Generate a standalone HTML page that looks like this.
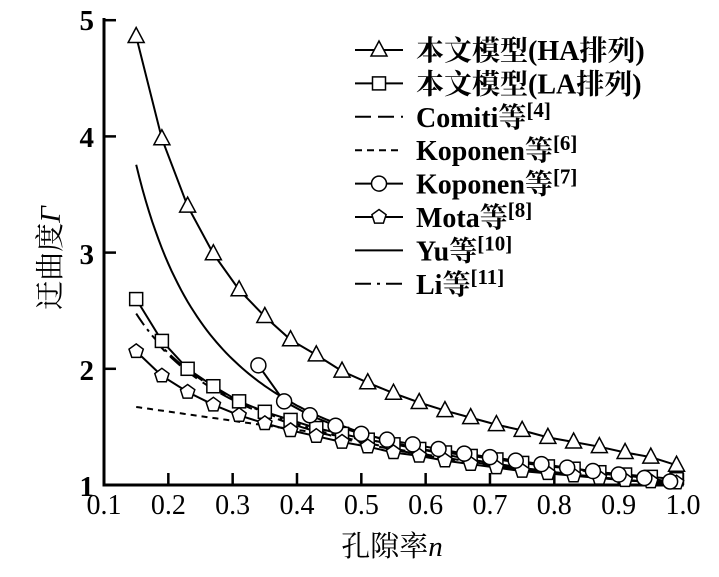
<!DOCTYPE html>
<html><head><meta charset="utf-8"><style>
body{margin:0;background:#fff}
svg text{font-family:"Liberation Serif","Noto Serif CJK SC",serif;fill:#000}
</style></head><body>
<svg id="s" width="719" height="572" viewBox="0 0 719 572" xmlns="http://www.w3.org/2000/svg">
<g stroke="#000" stroke-width="3" fill="none">
<path d="M104,18 V485 H682"/>
</g>
<g id="ticks" stroke="#000" stroke-width="2.5"></g>
<g font-size="29" font-weight="bold" text-anchor="end">
<text x="94" y="30">5</text><text x="94" y="147">4</text><text x="94" y="264">3</text><text x="94" y="380">2</text><text x="94" y="496">1</text>
</g>
<g id="xl" font-size="28" text-anchor="middle"></g>
<text x="0" y="0" font-size="29" transform="translate(60,258) rotate(-90)" text-anchor="middle">迂曲度<tspan font-style="italic">Γ</tspan></text>
<text x="392" y="556" font-size="29" text-anchor="middle">孔隙率<tspan font-style="italic">n</tspan></text>
<g id="plot" stroke="#000" stroke-width="2" fill="none"></g>
<g id="leg" font-size="28" font-weight="bold"></g>
</svg>
<script>
const NS="http://www.w3.org/2000/svg";
const X=n=>104+(n-0.1)*643.3, Y=v=>485-(v-1)*116.2;
function el(p,t,a,txt){const e=document.createElementNS(NS,t);for(const k in a)e.setAttribute(k,a[k]);if(txt)e.textContent=txt;document.getElementById(p).appendChild(e);return e;}
for(let i=1;i<=9;i++){const x=X(0.1+i*0.1);el('ticks','line',{x1:x,y1:485,x2:x,y2:473});}
for(let v=2;v<=5;v++){el('ticks','line',{x1:104,y1:Y(v),x2:116,y2:Y(v)});}
for(let i=0;i<=9;i++){el('xl','text',{x:X(0.1+i*0.1),y:514},(0.1+i*0.1).toFixed(1));}
const ns=[];for(let n=0.15;n<1.0;n+=0.04)ns.push(+n.toFixed(2));
const HA=[4.86,3.98,3.40,2.99,2.68,2.45,2.25,2.12,1.98,1.88,1.79,1.71,1.64,1.58,1.52,1.47,1.41,1.37,1.33,1.28,1.24,1.17];
const LA=[2.6,2.24,2.0,1.85,1.72,1.63,1.56,1.49,1.44,1.39,1.35,1.31,1.28,1.25,1.22,1.19,1.16,1.14,1.11,1.09,1.07,1.05];
const MO=[2.15,1.94,1.8,1.69,1.6,1.53,1.47,1.42,1.37,1.33,1.28,1.25,1.21,1.18,1.15,1.12,1.1,1.08,1.06,1.04,1.03,1.02];
const cn=[],CK=[2.03,1.72,1.6,1.51,1.44,1.39,1.35,1.31,1.27,1.24,1.21,1.18,1.15,1.12,1.09,1.06,1.03];
for(let i=0;i<CK.length;i++)cn.push(0.34+i*0.04);
function line(xs,ys,attr){let d='';xs.forEach((n,i)=>d+=(i?'L':'M')+X(n).toFixed(1)+','+Y(ys[i]).toFixed(1));el('plot','path',Object.assign({d:d},attr||{}));}
function curve(f,a,b,attr){const xs=[],ys=[];for(let n=a;n<=b+1e-9;n+=0.005){xs.push(n);ys.push(f(n));}line(xs,ys,attr);}
curve(n=>1+0.405*(1-n)/Math.pow(n,1.09)+0.04*(1-n),0.15,0.99,{});
curve(n=>1+0.79*(1-n),0.15,0.99,{'stroke-dasharray':'6,5'});
curve(n=>1+0.46*(1-n)/Math.pow(n,0.7),0.15,0.99,{'stroke-dasharray':'14,5,3,5'});
curve(n=>1+0.44*(1-n)/Math.pow(n,0.72),0.18,0.99,{'stroke-dasharray':'14,7'});
line(ns,HA);line(ns,LA);line(ns,MO);line(cn,CK);
function tri(x,y){el('plot','path',{d:`M${x},${y-9}L${x+8},${y+6}L${x-8},${y+6}Z`,fill:'#fff','stroke-width':1.5});}
function sq(x,y){el('plot','rect',{x:x-6.5,y:y-6.5,width:13,height:13,fill:'#fff','stroke-width':1.5});}
function ci(x,y){el('plot','circle',{cx:x,cy:y,r:7.5,fill:'#fff','stroke-width':1.5});}
function pe(x,y){let d='';for(let k=0;k<5;k++){const a=-Math.PI/2+k*2*Math.PI/5;d+=(k?'L':'M')+(x+7.5*Math.cos(a)).toFixed(1)+','+(y+7.5*Math.sin(a)).toFixed(1);}el('plot','path',{d:d+'Z',fill:'#fff','stroke-width':1.5});}
ns.forEach((n,i)=>{tri(X(n),Y(HA[i]));sq(X(n),Y(LA[i]));pe(X(n),Y(MO[i]));});
cn.forEach((n,i)=>ci(X(n),Y(CK[i])));
const L=[['本文模型(HA排列)','tri'],['本文模型(LA排列)','sq'],['Comiti等','ld','[4]'],['Koponen等','sd','[6]'],['Koponen等','ci','[7]'],['Mota等','pe','[8]'],['Yu等','so','[10]'],['Li等','dd','[11]']];
L.forEach((l,i)=>{const y=50+i*33.4;const x1=355,x2=403;
 const a={x1:x1,y1:y,x2:x2,y2:y,stroke:'#000','stroke-width':2};
 if(l[1]=='ld')a['stroke-dasharray']='16,7';if(l[1]=='sd')a['stroke-dasharray']='7,5';if(l[1]=='dd')a['stroke-dasharray']='16,6,3,6';
 el('plot','line',a);const cx=(x1+x2)/2;
 if(l[1]=='tri')tri(cx,y);if(l[1]=='sq')sq(cx,y);if(l[1]=='ci')ci(cx,y);if(l[1]=='pe')pe(cx,y);
 const t=el('leg','text',{x:416,y:y+10},l[0]);
 if(l[2]){const s=document.createElementNS(NS,'tspan');s.setAttribute('dy','-10');s.setAttribute('font-size','21');s.textContent=l[2];t.appendChild(s);}
});
</script>
</body></html>
